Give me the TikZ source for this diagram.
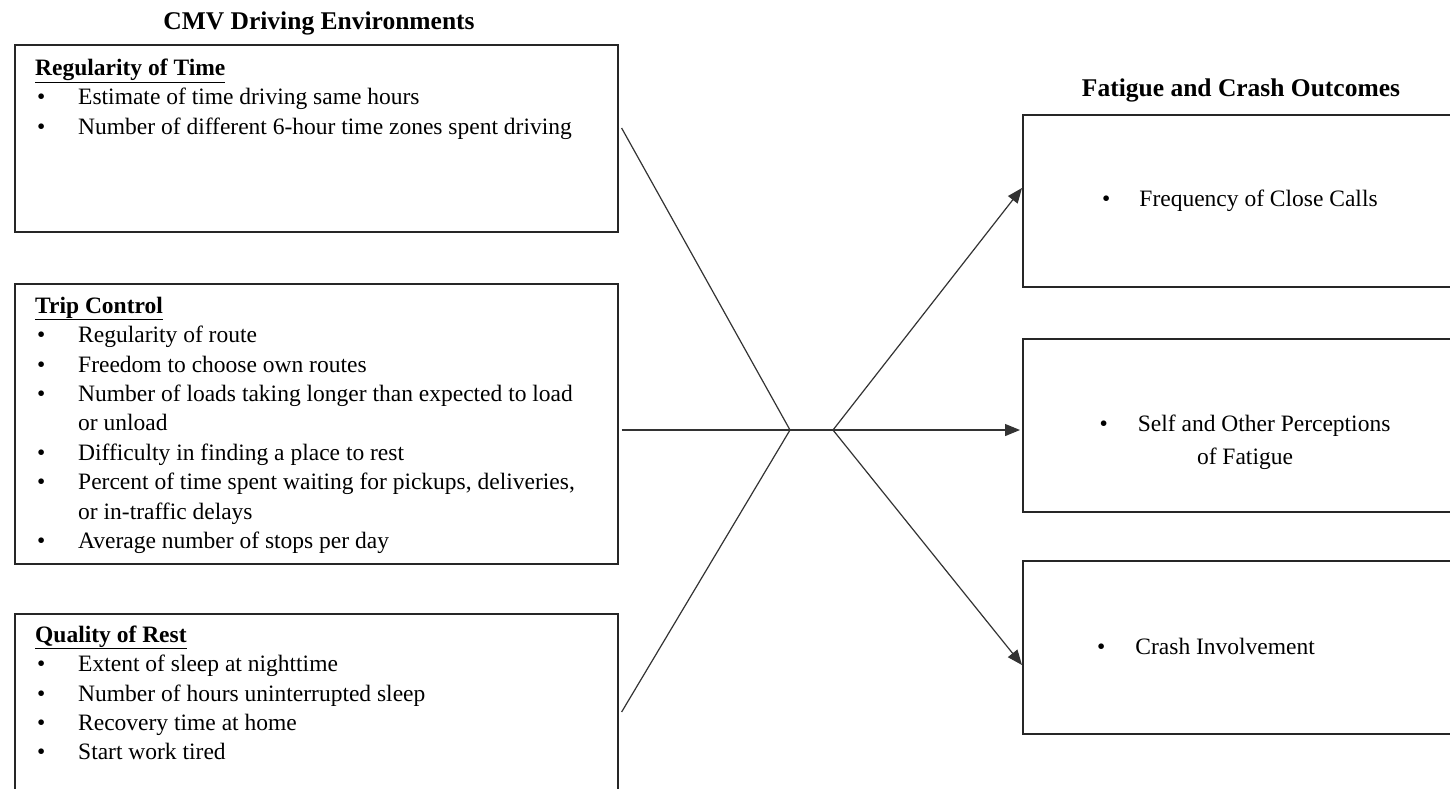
\documentclass[tikz,border=0pt]{standalone}
\usepackage{fontspec}
\setmainfont{Liberation Serif}
\usetikzlibrary{arrows.meta,calc}

% bullet line, continuation line and heading inside the factor boxes
\newcommand{\bl}{\makebox[43pt][l]{\hspace{2pt}\textbullet}}
\newcommand{\cl}{\makebox[43pt][l]{}}
\newcommand{\hd}[1]{\rule{0pt}{17pt}\underline{\textbf{#1}}}

\begin{document}
\begin{tikzpicture}[x=1pt,y=-1pt,
  box/.style={draw=black!85, line width=1.6pt, anchor=north west, inner sep=0pt},
  listtext/.style={anchor=north west, align=left, inner sep=0pt,
    font=\fontsize{23.5}{29.4}\selectfont},
  outtext/.style={inner sep=0pt, font=\fontsize{23.5}{33}\selectfont},
  title/.style={anchor=base, inner sep=0pt, font=\fontsize{25.5}{30}\selectfont\bfseries},
  link/.style={draw=black!80, line width=1.2pt},
  arr/.style={link, -{Triangle[length=15pt,width=12pt]}}]
\useasboundingbox (0,0) rectangle (1450,788);
\clip (0,0) rectangle (1450,788);
\fill[white] (0,0) rectangle (1450,788);

% column titles
\node[title] (lefttitle) at (319,29) {CMV Driving Environments};
\node[title] (righttitle) at (1241,96) {Fatigue and Crash Outcomes};

% driving-environment factor boxes
\node[box, minimum width=603pt, minimum height=187pt] (reg) at (14,44) {};
\node[box, minimum width=603pt, minimum height=280pt] (trip) at (14,283) {};
\node[box, minimum width=603pt, minimum height=190pt] (qual) at (14,613) {};

\node[listtext] (regtxt) at (35,58) {\hd{Regularity of Time}\\
  \bl Estimate of time driving same hours\\
  \bl Number of different 6-hour time zones spent driving};

\node[listtext] (triptxt) at (35,296) {\hd{Trip Control}\\
  \bl Regularity of route\\
  \bl Freedom to choose own routes\\
  \bl Number of loads taking longer than expected to load\\
  \cl or unload\\
  \bl Difficulty in finding a place to rest\\
  \bl Percent of time spent waiting for pickups, deliveries,\\
  \cl or in-traffic delays\\
  \bl Average number of stops per day};

\node[listtext] (qualtxt) at (35,625) {\hd{Quality of Rest}\\
  \bl Extent of sleep at nighttime\\
  \bl Number of hours uninterrupted sleep\\
  \bl Recovery time at home\\
  \bl Start work tired};

% outcome boxes
\node[box, minimum width=440pt, minimum height=172pt] (close) at (1022,114) {};
\node[box, minimum width=440pt, minimum height=173pt] (percep) at (1022,338) {};
\node[box, minimum width=440pt, minimum height=173pt] (crash) at (1022,560) {};

\node[outtext, anchor=base west] (closetxt) at (1102,206) {\textbullet\hspace{29pt}Frequency of Close Calls};
\node[outtext, anchor=north, align=center] (perceptxt) at (1245,414) {\rule{0pt}{17pt}\textbullet\hspace{30pt}Self and Other Perceptions\\of Fatigue};
\node[outtext, anchor=base west] (crashtxt) at (1097,654) {\textbullet\hspace{30pt}Crash Involvement};

% convergence points
\coordinate (jin) at (790,430);
\coordinate (jout) at (833,430);

\draw[link] ($(reg.north east)+(3,84)$) -- (jin);
\draw[link] ($(trip.north east)+(3,147)$) -- (jin);
\draw[link] ($(qual.north east)+(3,99)$) -- (jin);
\draw[link] (jin) -- (jout);

\draw[arr] (jout) -- ($(close.north west)+(0,74)$);
\draw[arr] (jout) -- ($(percep.north west)+(-2,92)$);
\draw[arr] (jout) -- ($(crash.north west)+(0,105)$);
\end{tikzpicture}
\end{document}
